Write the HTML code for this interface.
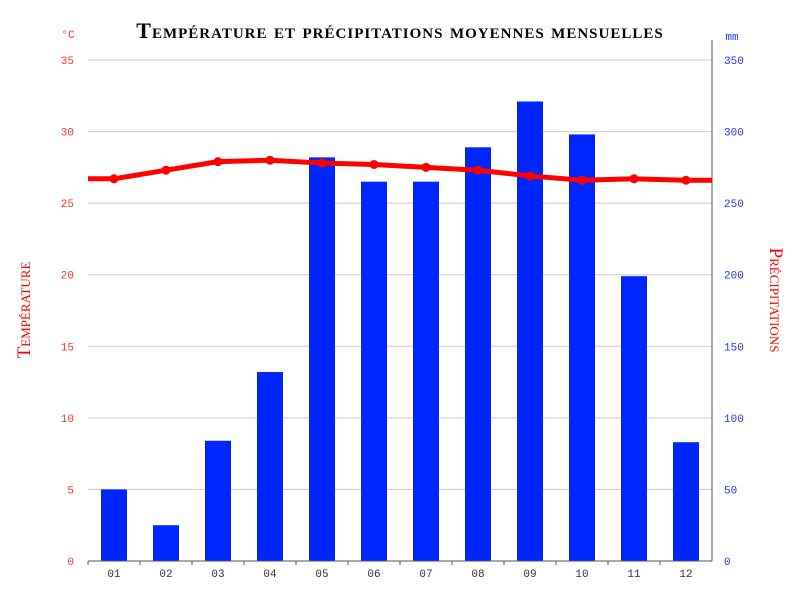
<!DOCTYPE html>
<html><head><meta charset="utf-8"><style>
body{margin:0;background:#fff;}
svg text{font-family:"Liberation Mono",monospace;}
</style></head><body>
<svg id="chart" width="800" height="600" xmlns="http://www.w3.org/2000/svg">
<rect width="800" height="600" fill="#fff"/>
<text x="400" y="38" text-anchor="middle" style="font-family:'Liberation Serif',serif;font-variant:small-caps;font-weight:bold;font-size:22px;letter-spacing:1px" fill="#000">Température et précipitations moyennes mensuelles</text>
<text x="68" y="38" font-size="11" fill="#f33" text-anchor="middle">°C</text>
<text x="732" y="40" font-size="11" fill="#23f" text-anchor="middle">mm</text>
<text transform="translate(30,310) rotate(-90)" text-anchor="middle" style="font-family:'Liberation Serif',serif;font-variant:small-caps;font-size:19px" fill="#f00">Température</text>
<text transform="translate(770,300) rotate(90)" text-anchor="middle" style="font-family:'Liberation Serif',serif;font-variant:small-caps;font-size:19px" fill="#f00">Précipitations</text>
<g id="grid"></g><g id="bars"></g><g id="axes"></g><g id="line"></g>
</svg>
<script>
const months=["01","02","03","04","05","06","07","08","09","10","11","12"];
const precip=[50,25,84,132,282,265,265,289,321,298,199,83];
const temp=[26.7,27.3,27.9,28.0,27.8,27.7,27.5,27.3,26.9,26.6,26.7,26.6];
const tempTicks=[0,5,10,15,20,25,30,35];
const precipTicks=[0,50,100,150,200,250,300,350];
const X0=88,X1=712,Y0=561,Y1=60;
const bw=(X1-X0)/months.length;
const xc=i=>X0+bw*(i+0.5);
const yT=v=>Y0-(v/35)*(Y0-Y1);
const yP=v=>Y0-(v/350)*(Y0-Y1);
const NS="http://www.w3.org/2000/svg";
function mk(parent,tag,attrs){const e=document.createElementNS(NS,tag);for(const k in attrs)e.setAttribute(k,attrs[k]);document.getElementById(parent).appendChild(e);return e;}
tempTicks.forEach((t,i)=>{
 const y=yT(t);
 if(t>0){const g=mk("grid","line",{x1:X0,x2:X1,y1:y,y2:y,stroke:"#ccc","stroke-width":1});
 
 }
 const l=mk("axes","text",{x:74,y:y+4,"text-anchor":"end","font-size":11,fill:"#f33"});l.textContent=t;
 
 
 const r=mk("axes","text",{x:724,y:yP(precipTicks[i])+4,"font-size":11,fill:"#23f"});r.textContent=precipTicks[i];
 
 
});
precip.forEach((p,i)=>{
 const b=mk("bars","rect",{x:xc(i)-13,y:yP(p),width:26,height:Y0-yP(p),fill:"#0026ff"});
 
 
 const t=mk("axes","text",{x:xc(i),y:577,"text-anchor":"middle","font-size":11,fill:"#333"});t.textContent=months[i];
 
 
 const tk=mk("axes","line",{x1:X0+bw*i,x2:X0+bw*i,y1:Y0,y2:Y0+4,stroke:"#555"});
 
 
});
const ax=mk("axes","line",{x1:X0,x2:X1,y1:Y0,y2:Y0,stroke:"#555","stroke-width":1});


const ar=mk("axes","line",{x1:X1,x2:X1,y1:Y1-20,y2:Y0,stroke:"#555","stroke-width":1});


let pts=[[X0,yT(temp[0])]];
temp.forEach((t,i)=>pts.push([xc(i),yT(t)]));
pts.push([X1,yT(temp[temp.length-1])]);
const pl=mk("line","polyline",{points:pts.map(p=>p.join(",")).join(" "),fill:"none",stroke:"#f00","stroke-width":5,"stroke-linejoin":"round"});


temp.forEach((t,i)=>{
 const c=mk("line","circle",{cx:xc(i),cy:yT(t),r:4.5,fill:"#f00"});
 
 
});
</script>
</body></html>
